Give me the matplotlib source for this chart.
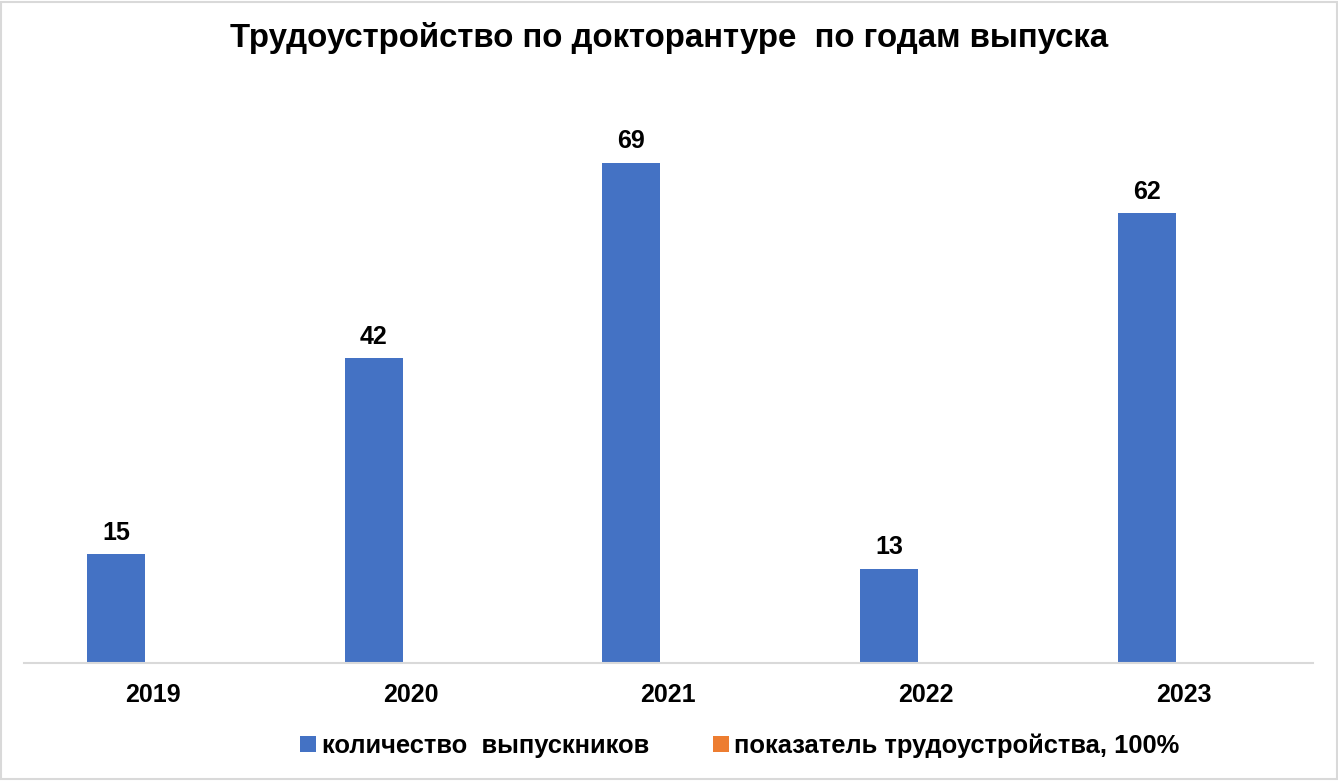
import numpy as np
import matplotlib.pyplot as plt
from matplotlib.patches import Rectangle

plt.rcParams['font.family'] = ['Liberation Sans', 'DejaVu Sans']

years = ['2019', '2020', '2021', '2022', '2023']
graduates = [15, 42, 69, 13, 62]
employment = [0, 0, 0, 0, 0]
series_names = ['количество  выпускников', 'показатель трудоустройства, 100%']
title = 'Трудоустройство по докторантуре  по годам выпуска'

blue = '#4472C4'
orange = '#ED7D31'

fig = plt.figure(figsize=(13.38, 7.81), dpi=100)
ax = fig.add_axes([0.018, 0.151, 0.963, 0.743])

x = np.arange(len(years))
w = 0.225
off = 0.1435
b1 = ax.bar(x - off, graduates, w, color=blue, label=series_names[0])
b2 = ax.bar(x + off, employment, w, color=orange, label=series_names[1])

for rect, v in zip(b1, graduates):
    ax.text(rect.get_x() + rect.get_width() / 2, v + 1.3, str(v),
            ha='center', va='bottom', fontsize=18, fontweight='bold')

ax.set_xlim(-0.5, len(years) - 0.5)
ax.set_ylim(0, 80)
ax.set_xticks(x)
ax.set_xticklabels(years, fontsize=18, fontweight='bold')
ax.tick_params(axis='x', length=0, pad=14)
ax.set_yticks([])
for s in ['top', 'right', 'left']:
    ax.spines[s].set_visible(False)
ax.spines['bottom'].set_color('#D9D9D9')
ax.spines['bottom'].set_linewidth(1.5)

fig.text(0.5, 0.951, title, ha='center', va='center', fontsize=23.8, fontweight='bold')

fig.legend(handles=[b1, b2], labels=series_names, loc='center', bbox_to_anchor=(0.553, 0.045),
           ncol=2, frameon=False, prop={'size': 18.4, 'weight': 'bold'},
           handlelength=0.62, handleheight=0.62, handletextpad=0.22, columnspacing=2.5)

fig.patches.append(Rectangle((0.001, 0.002), 0.998, 0.996, transform=fig.transFigure,
                             fill=False, edgecolor='#D9D9D9', linewidth=1.5))

fig.savefig('out.png', dpi=100, facecolor='white')
